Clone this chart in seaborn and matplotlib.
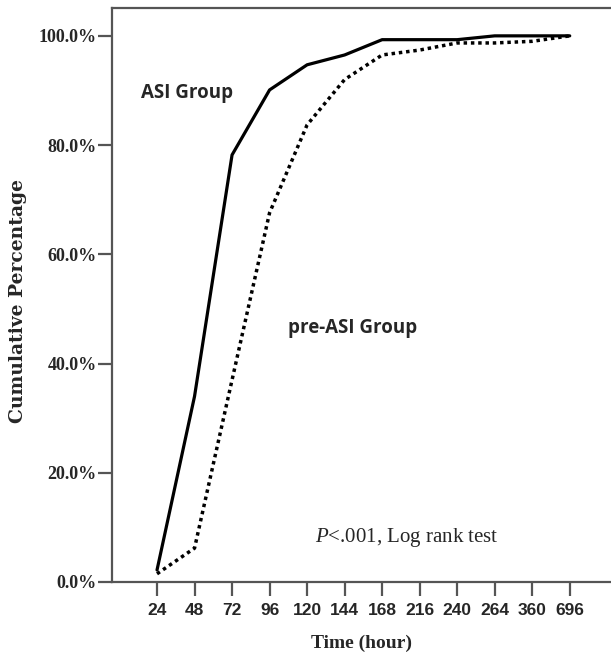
import matplotlib
matplotlib.use("Agg")
import matplotlib.pyplot as plt
import seaborn as sns
import pandas as pd
import numpy as np

time_labels = ["24", "48", "72", "96", "120", "144", "168", "216", "240", "264", "360", "696"]
asi_values = [2.2, 34.0, 78.2, 90.1, 94.7, 96.5, 99.3, 99.3, 99.3, 100.0, 100.0, 100.0]
pre_asi_values = [1.5, 6.2, 37.0, 67.6, 83.7, 92.0, 96.5, 97.4, 98.7, 98.7, 99.0, 100.0]
y_ticks = [0, 20, 40, 60, 80, 100]

sns.set_theme(style="white")
plt.rcParams['font.family'] = ['Liberation Serif', 'DejaVu Serif']
plt.rcParams['mathtext.fontset'] = 'custom'
plt.rcParams['mathtext.it'] = 'Liberation Serif:italic'
plt.rcParams['mathtext.rm'] = 'Liberation Serif'

idx = np.arange(len(time_labels))
df = pd.DataFrame({
    "pos": np.concatenate([idx, idx]),
    "value": asi_values + pre_asi_values,
    "group": ["ASI"] * len(idx) + ["pre-ASI"] * len(idx),
})

fig = plt.figure(figsize=(6.11, 6.52), dpi=100)
ax = fig.add_axes([112 / 611, 70 / 652, 1 - 112 / 611, (582 - 8) / 652])

sns.lineplot(data=df[df.group == "ASI"], x="pos", y="value", ax=ax,
             color="black", linewidth=2.3, linestyle="-", legend=False)
sns.lineplot(data=df[df.group == "pre-ASI"], x="pos", y="value", ax=ax,
             color="black", linewidth=2.5, linestyle=(0, (1, 1.1)), legend=False)

ax.set_xlim(-1.2, 12.1)
ax.set_ylim(0, 105.1)
ax.set_xticks(idx)
ax.set_xticklabels(time_labels)
ax.set_yticks(y_ticks)
ax.set_yticklabels([f"{v:.1f}%" for v in y_ticks])

for s in ["left", "bottom", "top"]:
    ax.spines[s].set_color("#555555")
    ax.spines[s].set_linewidth(1.6)
ax.spines["right"].set_visible(False)

ax.tick_params(axis="both", direction="out", length=10, width=1.6, color="#555555",
               left=True, bottom=True)
ax.tick_params(axis="y", labelsize=13, pad=1)
ax.tick_params(axis="x", labelsize=12.5, pad=5)
for lab in ax.get_yticklabels():
    lab.set_fontweight("bold")
for lab in ax.get_xticklabels():
    lab.set_family(["Liberation Sans", "DejaVu Sans"])
    lab.set_fontweight("bold")

ax.set_xlabel("Time (hour)", fontsize=14, fontweight="bold", labelpad=12)
ax.set_ylabel("Cumulative Percentage", fontsize=13.5, fontweight="bold",
              family=["DejaVu Serif"])
ax.yaxis.set_label_coords(-(112 - 27) / (611 - 112), (582 - 301) / 574)

ax.text(-0.43, 89.6, "ASI Group", fontsize=13.5, fontweight="bold",
        family=["Open Sans", "DejaVu Sans"], ha="left", va="center")
ax.text(3.48, 46.5, "pre-ASI Group", fontsize=13.5, fontweight="bold",
        family=["Open Sans", "DejaVu Sans"], ha="left", va="center")
ax.text(4.2, 8.1, r"$\mathit{P}$<.001, Log rank test", fontsize=15,
        ha="left", va="center")

fig.savefig("out.png", dpi=100)
